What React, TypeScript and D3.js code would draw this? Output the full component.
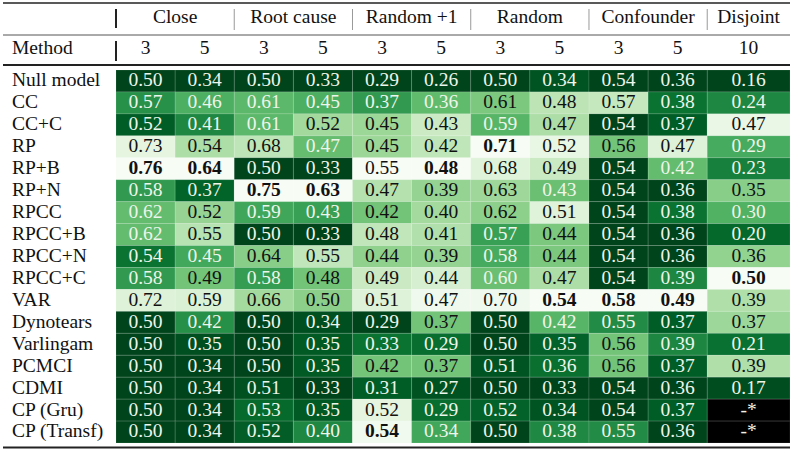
import React from "react";
import * as d3 from "d3";

const groups = ["Close", "Root cause", "Random +1", "Random", "Confounder", "Disjoint"];
const groupSpans = [2, 2, 2, 2, 2, 1];
const subHeaders = ["3", "5", "3", "5", "3", "5", "3", "5", "3", "5", "10"];
const methods = [
  "Null model", "CC", "CC+C", "RP", "RP+B", "RP+N", "RPCC", "RPCC+B", "RPCC+N",
  "RPCC+C", "VAR", "Dynotears", "Varlingam", "PCMCI", "CDMI", "CP (Gru)", "CP (Transf)",
];
const values: (number | null)[][] = [
  [0.50, 0.34, 0.50, 0.33, 0.29, 0.26, 0.50, 0.34, 0.54, 0.36, 0.16],
  [0.57, 0.46, 0.61, 0.45, 0.37, 0.36, 0.61, 0.48, 0.57, 0.38, 0.24],
  [0.52, 0.41, 0.61, 0.52, 0.45, 0.43, 0.59, 0.47, 0.54, 0.37, 0.47],
  [0.73, 0.54, 0.68, 0.47, 0.45, 0.42, 0.71, 0.52, 0.56, 0.47, 0.29],
  [0.76, 0.64, 0.50, 0.33, 0.55, 0.48, 0.68, 0.49, 0.54, 0.42, 0.23],
  [0.58, 0.37, 0.75, 0.63, 0.47, 0.39, 0.63, 0.43, 0.54, 0.36, 0.35],
  [0.62, 0.52, 0.59, 0.43, 0.42, 0.40, 0.62, 0.51, 0.54, 0.38, 0.30],
  [0.62, 0.55, 0.50, 0.33, 0.48, 0.41, 0.57, 0.44, 0.54, 0.36, 0.20],
  [0.54, 0.45, 0.64, 0.55, 0.44, 0.39, 0.58, 0.44, 0.54, 0.36, 0.36],
  [0.58, 0.49, 0.58, 0.48, 0.49, 0.44, 0.60, 0.47, 0.54, 0.39, 0.50],
  [0.72, 0.59, 0.66, 0.50, 0.51, 0.47, 0.70, 0.54, 0.58, 0.49, 0.39],
  [0.50, 0.42, 0.50, 0.34, 0.29, 0.37, 0.50, 0.42, 0.55, 0.37, 0.37],
  [0.50, 0.35, 0.50, 0.35, 0.33, 0.29, 0.50, 0.35, 0.56, 0.39, 0.21],
  [0.50, 0.34, 0.50, 0.35, 0.42, 0.37, 0.51, 0.36, 0.56, 0.37, 0.39],
  [0.50, 0.34, 0.51, 0.33, 0.31, 0.27, 0.50, 0.33, 0.54, 0.36, 0.17],
  [0.50, 0.34, 0.53, 0.35, 0.52, 0.29, 0.52, 0.34, 0.54, 0.37, null],
  [0.50, 0.34, 0.52, 0.40, 0.54, 0.34, 0.50, 0.38, 0.55, 0.36, null],
];
// bold (best) method for each column
const boldMethods = [
  "RP+B", "RP+B", "RP+N", "RP+N", "CP (Transf)", "RP+B", "RP", "VAR", "VAR", "VAR", "RPCC+C",
];
const colWeights = [1, 1, 1, 1, 1, 1, 1, 1, 1, 1, 1.4];

const W = 800;
const H = 454;
const FONT = "Liberation Serif, DejaVu Serif, serif";

export default function App() {
  const x0 = 116;
  const x1 = 790;
  const cum = [0];
  colWeights.forEach((w) => cum.push(cum[cum.length - 1] + w));
  const xs = d3.scaleLinear().domain([0, cum[cum.length - 1]]).range([x0, x1]);
  const colEdge = (i: number) => xs(cum[i]);

  const y = d3.scaleBand<string>().domain(methods).range([70, 443]).padding(0);

  const colStats = subHeaders.map((_, j) => {
    const col = values.map((r) => r[j]).filter((v): v is number => v != null);
    return { min: d3.min(col)!, max: d3.max(col)! };
  });

  const cells: React.ReactNode[] = [];
  values.forEach((row, i) => {
    const m = methods[i];
    row.forEach((v, j) => {
      const xa = colEdge(j);
      const xb = colEdge(j + 1);
      const ya = y(m)!;
      const h = y.bandwidth();
      let fill = "#000";
      let tc = "#eef4ea";
      let label = "-*";
      let bold = false;
      if (v != null) {
        const { min, max } = colStats[j];
        const t = (v - min) / (max - min);
        const s = 1 - t;
        fill = d3.interpolateGreens(s);
        tc = s > 0.52 ? "#eef5ea" : "#111";
        label = v.toFixed(2);
        bold = boldMethods[j] === m;
      }
      cells.push(
        <g key={`${i}-${j}`}>
          <rect x={xa} y={ya} width={xb - xa} height={h} fill={fill}
            stroke="rgba(255,255,255,0.12)" strokeWidth={1} />
          <text x={(xa + xb) / 2} y={ya + h / 2 + 1} textAnchor="middle"
            dominantBaseline="middle" fill={tc} fontSize={19.5}
            fontWeight={bold ? "bold" : "normal"} fontFamily={FONT}>{label}</text>
        </g>
      );
    });
  });

  let gi = 0;
  const groupEls = groups.map((g, k) => {
    const a = colEdge(gi);
    const b = colEdge(gi + groupSpans[k]);
    gi += groupSpans[k];
    return (
      <g key={g}>
        <text x={(a + b) / 2} y={19} textAnchor="middle" dominantBaseline="middle"
          fontSize={19.5} fontFamily={FONT} fill="#111">{g}</text>
        {k > 0 && <line x1={a} x2={a} y1={9} y2={30} stroke="#999" strokeWidth={1} />}
      </g>
    );
  });

  return (
    <svg width={W} height={H} style={{ position: "absolute", left: 0, top: 0, background: "#fff" }}>
      <rect width={W} height={H} fill="#fff" />
      <line x1={3} x2={x1} y1={3} y2={3} stroke="#222" strokeWidth={1.6} />
      <line x1={3} x2={x1} y1={35} y2={35} stroke="#555" strokeWidth={1} />
      <line x1={3} x2={x1} y1={65} y2={65} stroke="#222" strokeWidth={1.8} />
      <line x1={3} x2={x1} y1={447.5} y2={447.5} stroke="#222" strokeWidth={2} />
      <line x1={x0} x2={x0} y1={9} y2={28} stroke="#222" strokeWidth={2} />
      <line x1={x0} x2={x0} y1={41} y2={61} stroke="#222" strokeWidth={2} />
      {groupEls}
      <text x={12} y={50} dominantBaseline="middle" fontSize={19.5} fontFamily={FONT} fill="#111">Method</text>
      {subHeaders.map((s, j) => (
        <text key={j} x={(colEdge(j) + colEdge(j + 1)) / 2} y={50} textAnchor="middle"
          dominantBaseline="middle" fontSize={19.5} fontFamily={FONT} fill="#111">{s}</text>
      ))}
      {methods.map((m) => (
        <text key={m} x={12} y={y(m)! + y.bandwidth() / 2 + 1} dominantBaseline="middle"
          fontSize={19.5} fontFamily={FONT} fill="#111">{m}</text>
      ))}
      {cells}
    </svg>
  );
}
